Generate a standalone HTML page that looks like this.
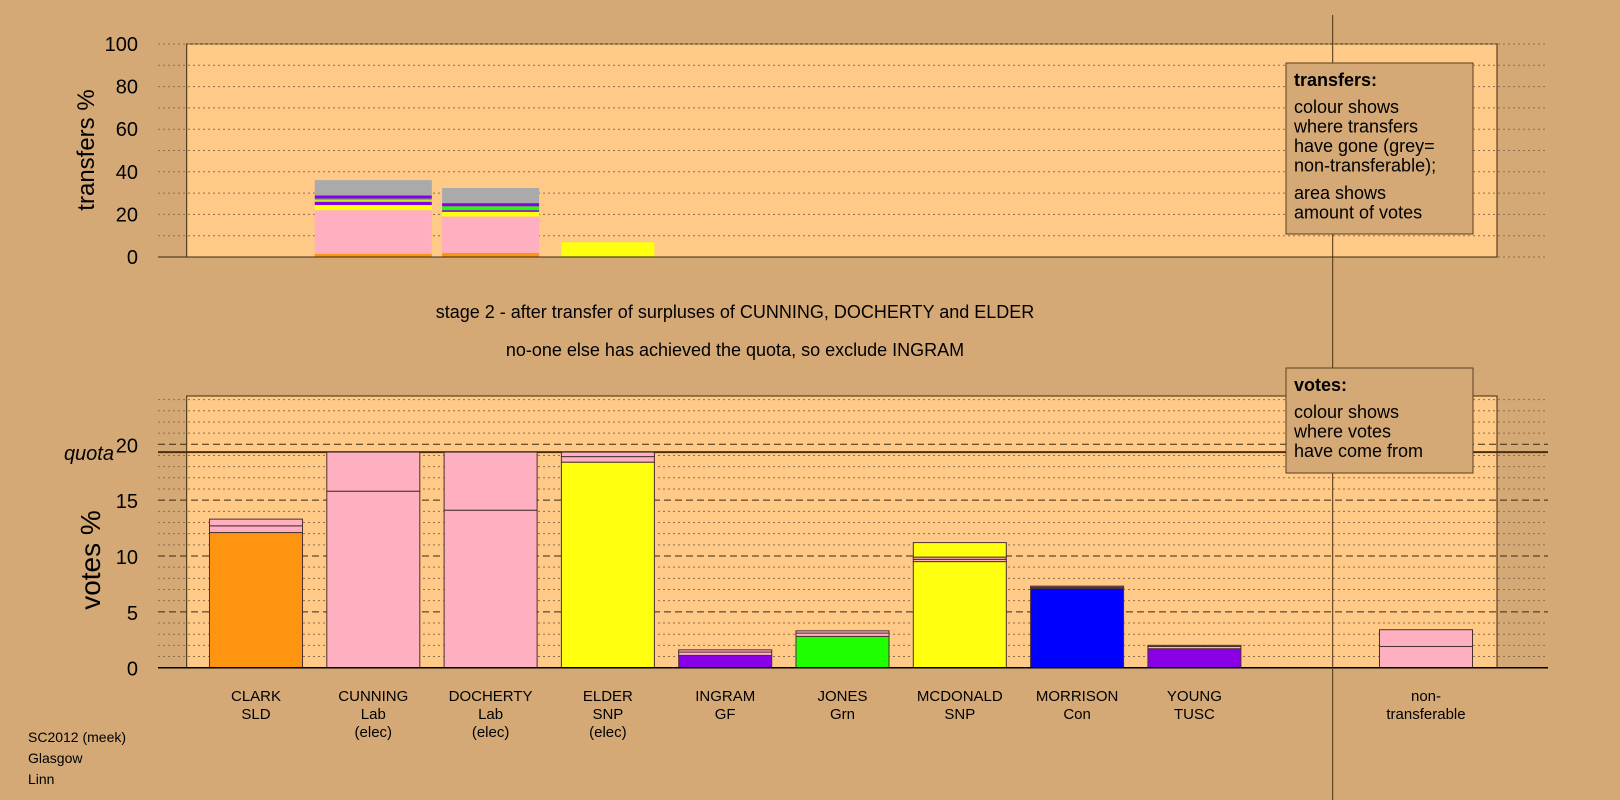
<!DOCTYPE html>
<html><head><meta charset="utf-8"><style>
html,body{margin:0;padding:0;background:#D4A976;}
svg{display:block;font-family:"Liberation Sans",sans-serif;}
</style></head><body>
<svg id="chart" width="1620" height="800" viewBox="0 0 1620 800"></svg>
<script>
// ---- data ----
const candidates = ["CLARK","CUNNING","DOCHERTY","ELDER","INGRAM","JONES","MCDONALD","MORRISON","YOUNG"];
const parties = ["SLD","Lab","Lab","SNP","GF","Grn","SNP","Con","TUSC"];
const elected = [false,true,true,true,false,false,false,false,false];
// vote stacks (votes %), bottom -> top
const clarkVotes = [12.1,0.6,0.6];
const cunningVotes = [15.8,3.5];
const dochertyVotes = [14.1,5.2];
const elderVotes = [18.4,0.5,0.4];
const ingramVotes = [1.1,0.3,0.2];
const jonesVotes = [2.8,0.3,0.2];
const mcdonaldVotes = [9.5,0.2,0.2,1.3];
const morrisonVotes = [7.1,0.1,0.1];
const youngVotes = [1.7,0.2,0.1];
const nonTransferableVotes = [1.9,1.5];
const quota = 19.3;
// transfer stacks (transfers %), bottom -> top
const transferSources = ["CUNNING","DOCHERTY","ELDER"];
const cunningTransfers = [1.5,20.5,2.4,1.6,0.6,0.8,1.5,7.2];
const dochertyTransfers = [1.9,17.1,2.2,0.8,1.8,1.5,7.1];
const elderTransfers = [0.3,6.7,0.2];
const transferAmounts = [117,97,93]; // relative surplus sizes (bar widths)
const topTicks = [0,20,40,60,80,100];
const bottomTicks = [0,5,10,15,20];

// ---- colours (style) ----
const C={or:"#FF9410",pk:"#FFB0C0",ye:"#FFFF10",gr:"#20FF00",bl:"#0000FF",pu:"#8A00E6",gy:"#AAAAAA"};
const voteColors=[[C.or,C.pk,C.pk],[C.pk,C.pk],[C.pk,C.pk],[C.ye,C.pk,C.pk],[C.pu,C.pk,C.pk],[C.gr,C.pk,C.pk],[C.ye,C.pk,C.pk,C.ye],[C.bl,C.pk,C.pk],[C.pu,C.pk,C.pk]];
const transferColors=[[C.or,C.pk,C.ye,C.pu,C.ye,C.gr,C.pu,C.gy],[C.or,C.pk,C.ye,C.pu,C.gr,C.pu,C.gy],[C.gr,C.ye,C.pk]];

const svg=document.getElementById('chart');
const NS="http://www.w3.org/2000/svg";
function mk(tag,attrs,parent){const e=document.createElementNS(NS,tag);for(const k in attrs)e.setAttribute(k,attrs[k]);(parent||svg).appendChild(e);return e;}
function txt(s,x,y,size,opts){const t=mk('text',Object.assign({x:x,y:y,'font-size':size,fill:'#000'},opts||{}));t.textContent=s;return t;}

// axes
const PL=186.7, PR=1497, GL=158, GR=1548;
const tY0=257, tY100=44; const ty=v=>tY0-(tY0-tY100)*v/100;
const bY0=667.7, bTop=396; const by=v=>bY0-11.17*v;
const slotX=i=>256+117.3*i;
const barW=93;

// --- top panel ---
let r=mk('rect',{x:PL,y:tY100,width:PR-PL,height:tY0-tY100,fill:'#FFC987',stroke:'#3a2a10','stroke-width':1});

for(let v=0;v<=100;v+=10){
  const l=mk('line',{x1:GL,x2:GR,y1:ty(v),y2:ty(v),stroke:'#8a7050','stroke-width':1,'stroke-dasharray':'2,3'});
  
}
topTicks.forEach(v=>{const t=txt(String(v),138,ty(v)+7,20,{'text-anchor':'end'});
  });
let at=txt('transfers %',0,0,24,{transform:'translate(94,150) rotate(-90)','text-anchor':'middle'});


const transferStacks=[cunningTransfers,dochertyTransfers,elderTransfers];
transferStacks.forEach((stack,i)=>{
  const cx=slotX(i+1), w=transferAmounts[i];
  let acc=0;
  stack.forEach((v,j)=>{
    const s=mk('rect',{x:cx-w/2,y:ty(acc+v),width:w,height:ty(acc)-ty(acc+v),fill:transferColors[i][j]});
    
    
    acc+=v;
  });
});
mk('line',{x1:GL,x2:PR,y1:tY0,y2:tY0,stroke:'#3a2a10','stroke-width':1});

// titles
let t1=txt('stage 2 - after transfer of surpluses of CUNNING, DOCHERTY and ELDER',735,318,18,{'text-anchor':'middle'});

let t2=txt('no-one else has achieved the quota, so exclude INGRAM',735,356,18,{'text-anchor':'middle'});


// --- bottom panel ---
r=mk('rect',{x:PL,y:bTop,width:PR-PL,height:bY0-bTop,fill:'#FFC987',stroke:'#3a2a10','stroke-width':1});

for(let v=1;v<=24;v++){
  const major=v%5===0;
  const l=mk('line',{x1:GL,x2:GR,y1:by(v),y2:by(v),stroke:major?'#3a2a10':'#8a7050','stroke-width':1,'stroke-dasharray':major?'7,4':'2,3'});
  
}
bottomTicks.forEach(v=>{const t=txt(String(v),138,by(v)+8,20,{'text-anchor':'end'});
  });
let vt=txt('votes %',0,0,28,{transform:'translate(100,560) rotate(-90)','text-anchor':'middle'});

let ql=mk('line',{x1:GL,x2:GR,y1:by(quota),y2:by(quota),stroke:'#4a3010','stroke-width':2});

let qt=txt('quota',114,by(quota)+8,20,{'text-anchor':'end','font-style':'italic'});


const voteStacks=[clarkVotes,cunningVotes,dochertyVotes,elderVotes,ingramVotes,jonesVotes,mcdonaldVotes,morrisonVotes,youngVotes];
function drawStack(stack,colors,cx,name){
  let acc=0;
  stack.forEach((v,j)=>{
    const s=mk('rect',{x:cx-barW/2,y:by(acc+v),width:barW,height:by(acc)-by(acc+v),fill:colors[j],stroke:'#4a3030','stroke-width':1});
    
    
    acc+=v;
  });
}
voteStacks.forEach((st,i)=>drawStack(st,voteColors[i],slotX(i),candidates[i].toLowerCase()));
drawStack(nonTransferableVotes,[C.pk,C.pk],1426,'non-transferable');

let zl=mk('line',{x1:GL,x2:GR,y1:bY0,y2:bY0,stroke:'#000','stroke-width':1.5});


candidates.forEach((c,i)=>{
  const cx=slotX(i);
  const a=txt(c,cx,701,15,{'text-anchor':'middle'});
  
  const b=txt(parties[i],cx,719,15,{'text-anchor':'middle'});
  
  if(elected[i]){const e=txt('(elec)',cx,737,15,{'text-anchor':'middle'});
    }
});
let n1=txt('non-',1426,701,15,{'text-anchor':'middle'});

let n2=txt('transferable',1426,719,15,{'text-anchor':'middle'});


// separator line
let sep=mk('line',{x1:1332.7,x2:1332.7,y1:15,y2:800,stroke:'#4a3010','stroke-width':1});


// legends
function legend(x,y,w,h,title,lines,name,gapIdx){
  const g=mk('g',{});
  
  mk('rect',{x:x,y:y,width:w,height:h,fill:'#D4A976',stroke:'#5a4020','stroke-width':1},g);
  const t=mk('text',{x:x+8,y:y+23,'font-size':18,'font-weight':'bold'},g);t.textContent=title;
  let yy=y+50;
  lines.forEach((l,i)=>{ if(i===gapIdx) yy+=8;
    const e=mk('text',{x:x+8,y:yy,'font-size':18},g);e.textContent=l;yy+=19.5;});
}
legend(1286,63,187,171,'transfers:',['colour shows','where transfers','have gone (grey=','non-transferable);','area shows','amount of votes'],'transfers-legend',4);
legend(1286,368,187,105,'votes:',['colour shows','where votes','have come from'],'votes-legend',-1);

// footer
['SC2012 (meek)','Glasgow','Linn'].forEach((s,i)=>{const f=txt(s,28,742+21*i,14);
  });
</script>
</body></html>
